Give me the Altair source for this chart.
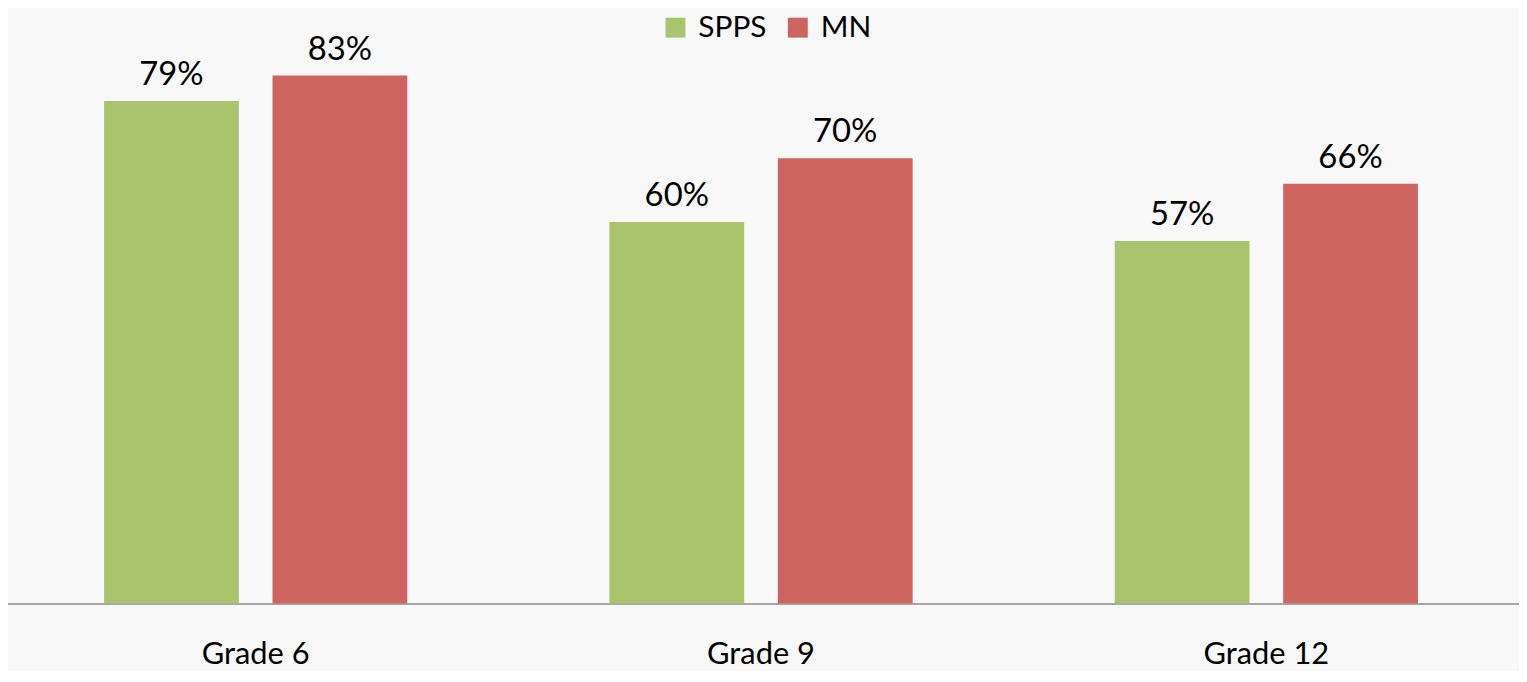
import altair as alt
import pandas as pd

grades = ["Grade 6", "Grade 9", "Grade 12"]
series = ["SPPS", "MN"]
spps = [79, 60, 57]
mn = [83, 70, 66]
colors = ["#A9C46C", "#CD645F"]

rows = []
for g, a, b in zip(grades, spps, mn):
    rows.append({"grade": g, "series": "SPPS", "value": a, "label": f"{a}%"})
    rows.append({"grade": g, "series": "MN", "value": b, "label": f"{b}%"})
df = pd.DataFrame(rows)

FONT = "Lato"

x = alt.X("grade:N", sort=grades, title=None,
          scale=alt.Scale(paddingInner=0.4, paddingOuter=0.2),
          axis=alt.Axis(labelAngle=0, ticks=False, labelPadding=36, labelFontSize=31,
                        labelFont=FONT, labelColor="#000000", domainColor="#A6A6A6",
                        domainWidth=2, grid=False))
xo = alt.XOffset("series:N", sort=series, scale=alt.Scale(paddingInner=0.2, paddingOuter=0))
y = alt.Y("value:Q", scale=alt.Scale(domain=[0, 94.6], nice=False), axis=None)

bars = alt.Chart(df).mark_bar().encode(
    x=x, xOffset=xo, y=y,
    color=alt.Color("series:N", sort=series,
                    scale=alt.Scale(domain=series, range=colors),
                    legend=alt.Legend(title=None, orient="none", legendX=661, legendY=11,
                                      direction="horizontal", symbolType="square",
                                      symbolSize=400, symbolStrokeWidth=0, labelFontSize=30,
                                      labelFont=FONT, labelColor="#000000", columnPadding=16,
                                      labelOffset=8, symbolOpacity=1)),
)

labels = alt.Chart(df).mark_text(baseline="alphabetic", dy=-16, fontSize=33, font=FONT,
                                 color="#000000").encode(
    x=x, xOffset=xo, y=y, text="label:N")

chart = (bars + labels).properties(
    width=1524, height=605,
    padding={"left": -5, "top": -8, "right": 0, "bottom": 0},
    background="#F8F8F8"
).configure_view(stroke=None)

chart.save("out.html", embed_options={"renderer": "svg", "actions": False})
